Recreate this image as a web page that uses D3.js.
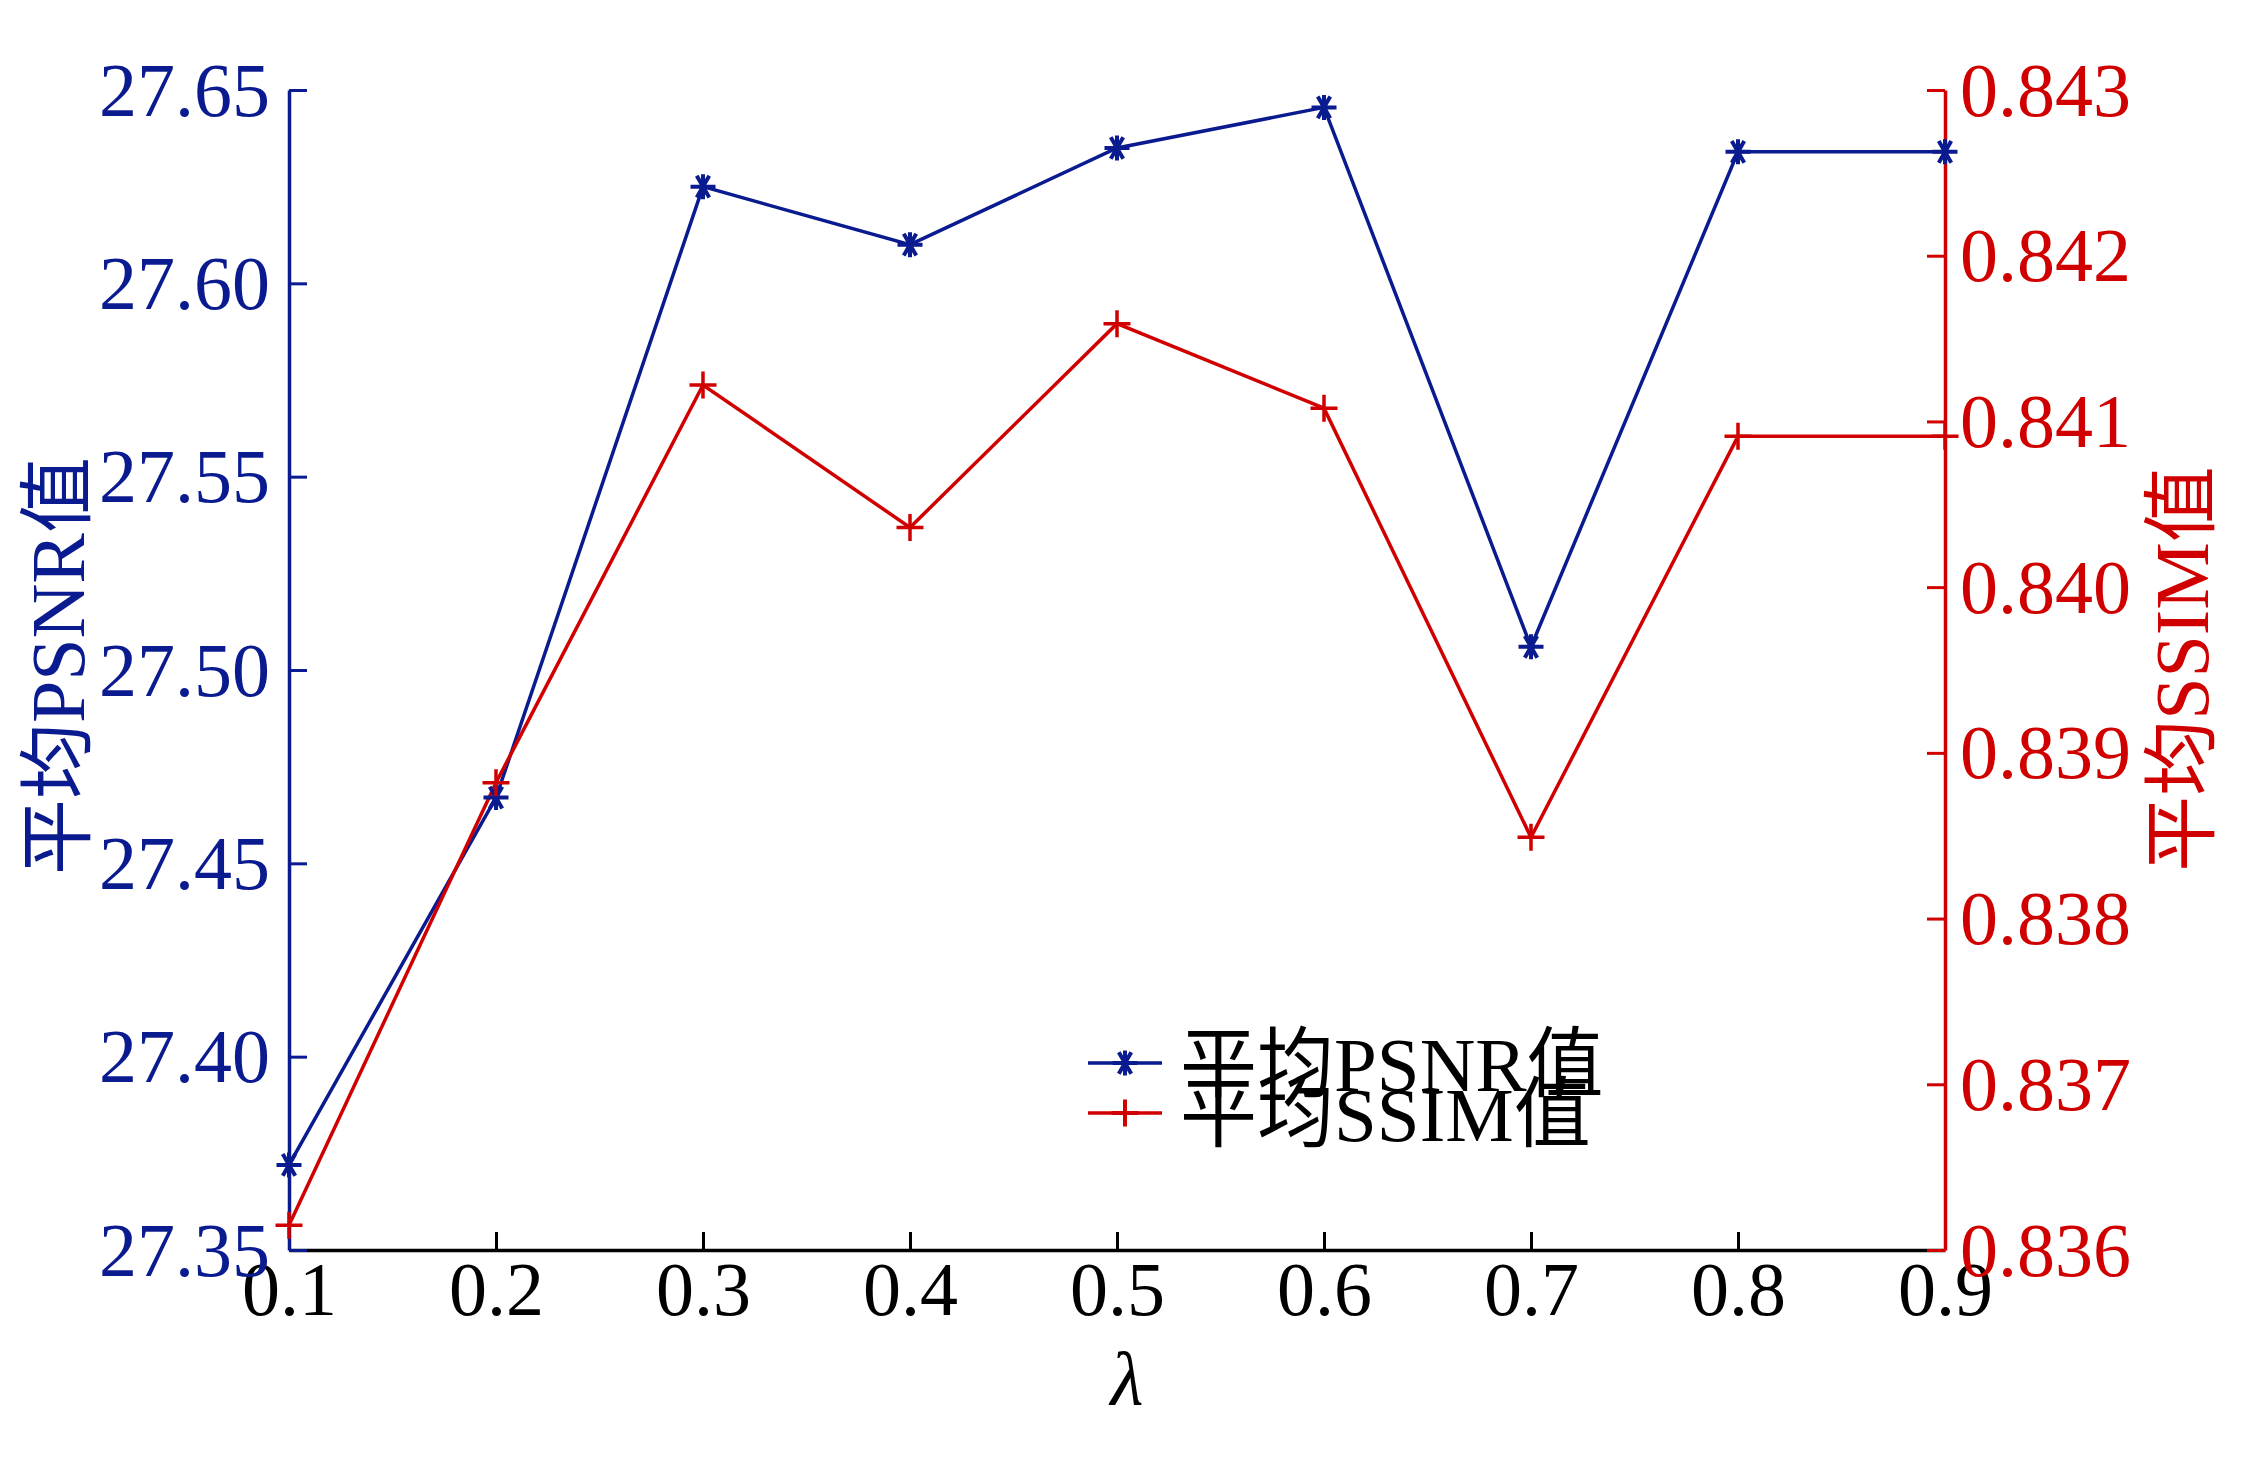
<!DOCTYPE html>
<html>
<head>
<meta charset="utf-8">
<script src="https://cdn.jsdelivr.net/npm/d3@7"></script>
<style>
  body { margin: 0; background: #fff; }
  text { font-family: "Liberation Serif", "Noto Sans CJK SC", serif; }
</style>
</head>
<body>
<script>
// lambda values on the x axis
const lambdas = [0.1, 0.2, 0.3, 0.4, 0.5, 0.6, 0.7, 0.8, 0.9];
// mean PSNR per lambda (left axis)
const psnr = [27.372, 27.467, 27.625, 27.610, 27.635, 27.6455, 27.506, 27.634, 27.634];
// mean SSIM per lambda (right axis)
const ssim = [0.83615, 0.83882, 0.84122, 0.84036, 0.84159, 0.84108, 0.83849, 0.84091, 0.84091];

const psnrTicks = [27.35, 27.40, 27.45, 27.50, 27.55, 27.60, 27.65];
const ssimTicks = [0.836, 0.837, 0.838, 0.839, 0.840, 0.841, 0.842, 0.843];

const blue = '#0a1a8f';
const red = '#d00000';

const W = 2264, H = 1464;
const plotLeft = 289, plotRight = 1945, plotTop = 90, plotBottom = 1250;

const svg = d3.select('body').append('svg')
    .attr('width', W)
    .attr('height', H);

const x = d3.scaleLinear().domain([0.1, 0.9]).range([plotLeft, plotRight]);
const yL = d3.scaleLinear().domain([27.35, 27.65]).range([plotBottom, plotTop]);
const yR = d3.scaleLinear().domain([0.836, 0.843]).range([plotBottom, plotTop]);

// x axis (ticks pointing inward)
const xAxis = svg.append('g')
    .attr('transform', `translate(0,${plotBottom})`)
    .call(d3.axisTop(x).tickValues(lambdas).tickFormat(d3.format('.1f')).tickSize(18).tickSizeOuter(0));
xAxis.select('.domain').attr('stroke', '#000').attr('stroke-width', 3.5);
xAxis.selectAll('.tick line').attr('stroke', '#000').attr('stroke-width', 3);
xAxis.selectAll('.tick text')
    .attr('y', 65)
    .attr('dy', 0)
    .attr('fill', '#000')
    .attr('font-size', 76);

// left axis
const lAxis = svg.append('g')
    .attr('transform', `translate(${plotLeft},0)`)
    .call(d3.axisRight(yL).tickValues(psnrTicks).tickFormat(d3.format('.2f')).tickSize(18).tickSizeOuter(0));
lAxis.select('.domain').attr('stroke', blue).attr('stroke-width', 3.5);
lAxis.selectAll('.tick line').attr('stroke', blue).attr('stroke-width', 3);
lAxis.selectAll('.tick text')
    .attr('x', -19)
    .attr('text-anchor', 'end')
    .attr('dy', '0.33em')
    .attr('fill', blue)
    .attr('font-size', 76);

// right axis
const rAxis = svg.append('g')
    .attr('transform', `translate(${plotRight},0)`)
    .call(d3.axisLeft(yR).tickValues(ssimTicks).tickFormat(d3.format('.3f')).tickSize(18).tickSizeOuter(0));
rAxis.select('.domain').attr('stroke', red).attr('stroke-width', 3.5);
rAxis.selectAll('.tick line').attr('stroke', red).attr('stroke-width', 3);
rAxis.selectAll('.tick text')
    .attr('x', 15)
    .attr('text-anchor', 'start')
    .attr('dy', '0.33em')
    .attr('fill', red)
    .attr('font-size', 76);

// axis titles
svg.append('text')
    .attr('transform', `translate(84,666) rotate(-90)`)
    .attr('text-anchor', 'middle')
    .attr('fill', blue)
    .attr('font-size', 76)
    .text('平均PSNR值');

svg.append('text')
    .attr('transform', `translate(2208,669) rotate(-90)`)
    .attr('text-anchor', 'middle')
    .attr('fill', red)
    .attr('font-size', 76)
    .text('平均SSIM值');

svg.append('text')
    .attr('x', 1127)
    .attr('y', 1405)
    .attr('text-anchor', 'middle')
    .attr('font-style', 'italic')
    .attr('font-size', 76)
    .text('λ');

// series lines
const psnrData = lambdas.map((l, i) => [l, psnr[i]]);
const ssimData = lambdas.map((l, i) => [l, ssim[i]]);

svg.append('path')
    .datum(psnrData)
    .attr('fill', 'none')
    .attr('stroke', blue)
    .attr('stroke-width', 3.5)
    .attr('d', d3.line().x(d => x(d[0])).y(d => yL(d[1])));

svg.append('path')
    .datum(ssimData)
    .attr('fill', 'none')
    .attr('stroke', red)
    .attr('stroke-width', 3.5)
    .attr('d', d3.line().x(d => x(d[0])).y(d => yR(d[1])));

// marker shapes
function star(s) {
    const r = s / 2;
    const a = r * Math.cos(Math.PI / 3), b = r * Math.sin(Math.PI / 3);
    return `M${-r},0L${r},0M${-a},${-b}L${a},${b}M${-a},${b}L${a},${-b}M0,${-r}L0,${r}`;
}
function plus(s) {
    const r = s / 2;
    return `M${-r},0L${r},0M0,${-r}L0,${r}`;
}

svg.append('g').selectAll('path')
    .data(psnrData)
    .enter()
    .append('path')
    .attr('transform', d => `translate(${x(d[0])},${yL(d[1])})`)
    .attr('d', star(25))
    .attr('stroke', blue)
    .attr('stroke-width', 4)
    .attr('fill', 'none');

svg.append('g').selectAll('path')
    .data(ssimData)
    .enter()
    .append('path')
    .attr('transform', d => `translate(${x(d[0])},${yR(d[1])})`)
    .attr('d', plus(27))
    .attr('stroke', red)
    .attr('stroke-width', 3.5)
    .attr('fill', 'none');

// legend
const legend = svg.append('g').attr('transform', 'translate(1088,1063)');
const items = [
    { label: '平均PSNR值', color: blue, mark: star(25) },
    { label: '平均SSIM值', color: red, mark: plus(27) }
];
items.forEach((it, i) => {
    const g = legend.append('g').attr('transform', `translate(0,${i * 50})`);
    g.append('line')
        .attr('x1', 0).attr('x2', 74)
        .attr('stroke', it.color).attr('stroke-width', 3.5);
    g.append('path')
        .attr('transform', 'translate(37,0)')
        .attr('d', it.mark)
        .attr('stroke', it.color)
        .attr('stroke-width', 4)
        .attr('fill', 'none');
    g.append('text')
        .attr('x', 92)
        .attr('dy', '0.36em')
        .attr('font-size', 77)
        .attr('fill', '#000')
        .text(it.label);
});
</script>
</body>
</html>
